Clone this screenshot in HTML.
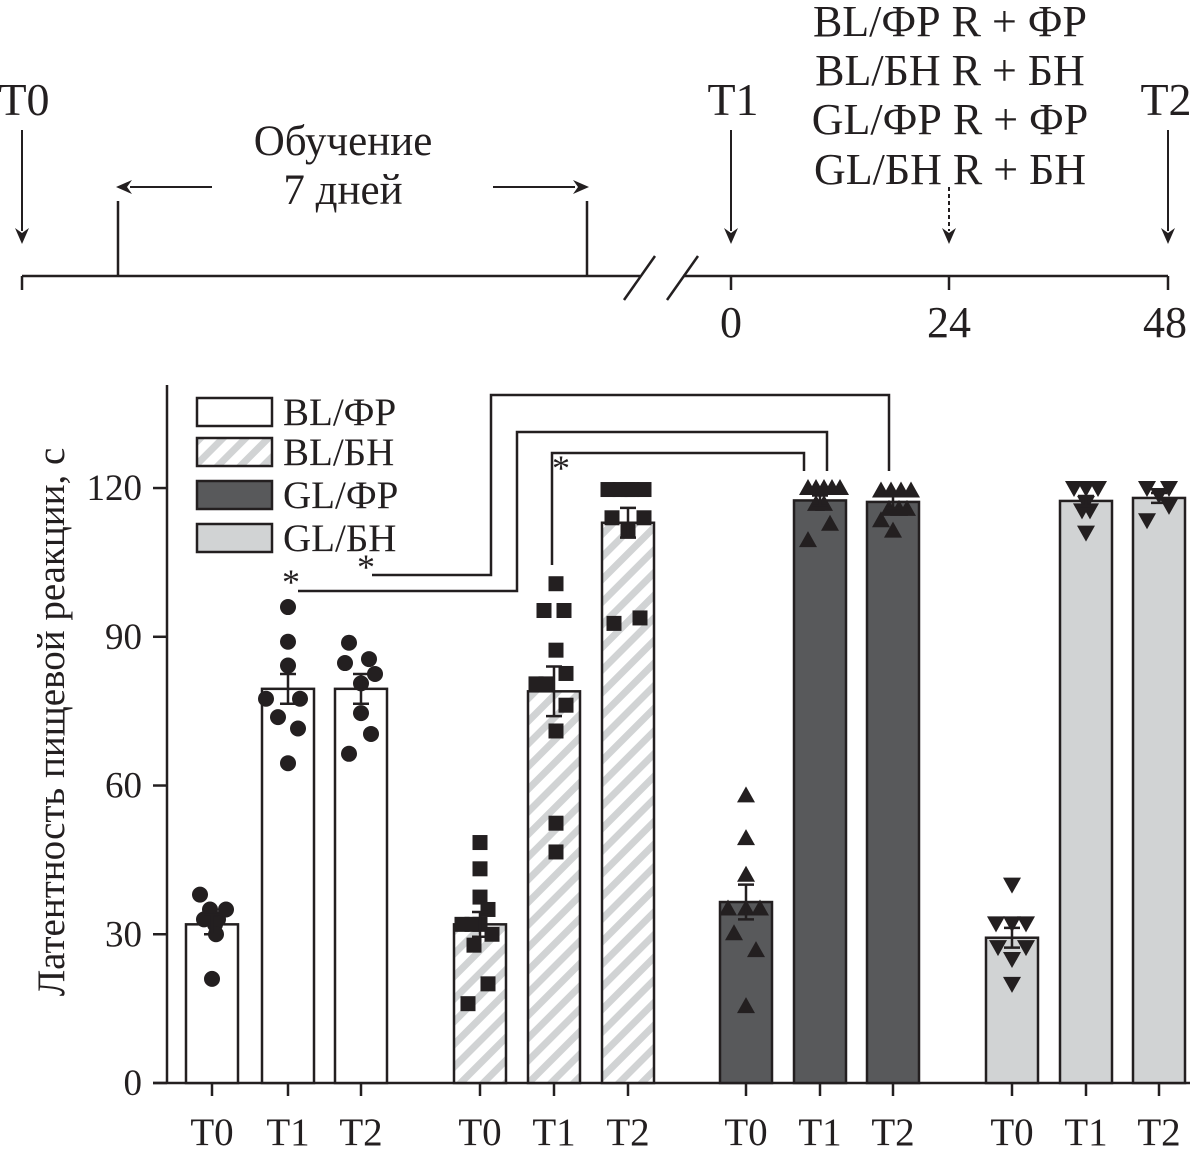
<!DOCTYPE html>
<html><head><meta charset="utf-8">
<style>
html,body{margin:0;padding:0;background:#fff;}
svg{display:block;font-family:"Liberation Serif","DejaVu Serif",serif;}
</style></head>
<body>
<svg id="chart" width="1201" height="1157" viewBox="0 0 1201 1157" xmlns="http://www.w3.org/2000/svg">
<defs>
<pattern id="hatch" patternUnits="userSpaceOnUse" width="16" height="16" patternTransform="rotate(45)">
<rect width="16" height="16" fill="#fff"/>
<rect x="0" y="0" width="7" height="16" fill="#d1d3d4"/>
</pattern>
</defs>

<g stroke="#231f20" stroke-width="2.5" fill="none">
<line x1="22" y1="276" x2="640" y2="276"/>
<line x1="683" y1="276" x2="1168" y2="276"/>
<line x1="22" y1="276" x2="22" y2="290"/>
<line x1="118" y1="201" x2="118" y2="276"/>
<line x1="587" y1="201" x2="587" y2="276"/>
<line x1="624" y1="300" x2="655" y2="256"/>
<line x1="667" y1="300" x2="698" y2="256"/>
<line x1="731" y1="276" x2="731" y2="290"/>
<line x1="949" y1="276" x2="949" y2="290"/>
<line x1="1168" y1="276" x2="1168" y2="290"/>
<line x1="22" y1="130" x2="22" y2="231" stroke-width="2"/>
<path d="M15,228 L22,244 L29,228 L22,233Z" fill="#231f20" stroke="none"/>
<line x1="731" y1="130" x2="731" y2="231" stroke-width="2"/>
<path d="M724,228 L731,244 L738,228 L731,233Z" fill="#231f20" stroke="none"/>
<line x1="1168" y1="130" x2="1168" y2="231" stroke-width="2"/>
<path d="M1161,228 L1168,244 L1175,228 L1168,233Z" fill="#231f20" stroke="none"/>
<line x1="949" y1="187" x2="949" y2="231" stroke-width="2" stroke-dasharray="4,3"/>
<path d="M942,228 L949,244 L956,228 L949,233Z" fill="#231f20" stroke="none"/>
<line x1="212" y1="187" x2="130" y2="187" stroke-width="2"/>
<path d="M132,180 L116,187 L132,194 L127,187Z" fill="#231f20" stroke="none"/>
<line x1="493" y1="187" x2="575" y2="187" stroke-width="2"/>
<path d="M573,180 L589,187 L573,194 L578,187Z" fill="#231f20" stroke="none"/>
</g>
<g font-size="44" fill="#231f20" text-anchor="middle">
<text x="24" y="115" font-size="46">T0</text>
<text x="733" y="115" font-size="46">T1</text>
<text x="1166" y="115" font-size="46">T2</text>
<text x="343" y="155" font-size="43">Обучение</text>
<text x="343" y="204" font-size="43">7 дней</text>
<text x="950" y="36">BL/ФР R + ФР</text>
<text x="950" y="85">BL/БН R + БН</text>
<text x="950" y="134">GL/ФР R + ФР</text>
<text x="950" y="184">GL/БН R + БН</text>
<text x="731" y="337">0</text>
<text x="949" y="337">24</text>
<text x="1165" y="337">48</text>
</g>

<g id="plot"></g>
</svg>
<script>
const groups = ["BL/ФР","BL/БН","GL/ФР","GL/БН"];
const timepoints = ["T0","T1","T2"];
const means = [[32,79.5,79.5],[32,79,113],[36.5,117.5,117.2],[29.3,117.4,118]];
const sems = [[2,3,3],[2.5,5,3],[3.5,1,1.2],[2,1,1]];
const points = [
 [[38,35,33,33,35,32,30,21],[96,89,84.2,77.5,77.5,73.8,71.5,64.5],[88.8,84.7,85.5,82.5,80.6,74.6,70.4,66.4]],
 [[48.5,43.2,37.5,35,32,32,32,30,27.8,20,16],[100.7,95.3,95.3,87.3,82.6,80.5,80.5,76.2,71,52.4,46.6],[119.7,119.7,119.7,119.7,119.7,114,114,111.4,92.7,93.8]],
 [[58,49.4,42,35.2,35.2,35.2,30.2,26.8,15.5],[120,120,120,120,120,116.8,116.8,112.8,109.5],[119.5,119.5,119.5,119.5,115.8,115.8,115.8,113.5,111.4]],
 [[40,32.2,32.2,32.2,27.4,27.4,25,20],[120,120,120,117,115.5,115.5,111],[120,120,118.6,116.4,113.5]]
];
const jitter = [
 [[-12,-2,-8,6,14,3,4,0],[0,0,0,-22,12,-10,10,0],[-12,-16,8,14,0,0,10,-12]],
 [[0,0,0,8,-18,-8,0,12,-6,8,-12],[2,-10,10,2,12,-18,-8,12,2,2,2],[-20,-8,4,16,0,-16,16,0,-14,12]],
 [[0,0,0,-18,0,14,-12,10,0],[-12,-4,4,12,20,-4,4,10,-12],[-12,-2,8,18,-4,6,14,-12,0]],
 [[0,-16,0,14,-14,14,0,0],[-12,12,0,0,-4,4,0],[-12,10,0,10,-12]]
];
const yTicks = [0,30,60,90,120];
const centers = [[212,288,361],[480,554,628],[746,820,893],[1012,1086,1159]];
const fills = ["#ffffff","url(#hatch)","#58595b","#d1d3d4"];
const markers = ["circle","square","tri","tri-down"];

const NS="http://www.w3.org/2000/svg";
const plot=document.getElementById('plot');
const Y0=1083, K=4.958;
function y(v){return Y0-v*K;}
function mk(tag,attrs,parent){const e=document.createElementNS(NS,tag);for(const k in attrs)e.setAttribute(k,attrs[k]);(parent||plot).appendChild(e);return e;}

let ax=mk('line',{x1:167,y1:385,x2:167,y2:Y0,stroke:'#231f20','stroke-width':2.5});


let bx=mk('line',{x1:153,y1:Y0,x2:1190,y2:Y0,stroke:'#231f20','stroke-width':2.5});


yTicks.forEach(t=>{
 const tk=mk('line',{x1:153,y1:y(t),x2:167,y2:y(t),stroke:'#231f20','stroke-width':2.5});
 
 
 const tl=mk('text',{x:142,y:y(t)+12,'text-anchor':'end','font-size':37,fill:'#231f20'});
 tl.textContent=t;
 
 
});
const yt=mk('text',{x:0,y:0,'font-size':39,fill:'#231f20','text-anchor':'middle',transform:'translate(64,722) rotate(-90)'});
yt.textContent='Латентность пищевой реакции, с';



const BW=52;
groups.forEach((g,gi)=>{
 timepoints.forEach((tp,ti)=>{
  const cx=centers[gi][ti], v=means[gi][ti];
  const r=mk('rect',{x:cx-BW/2,y:y(v),width:BW,height:Y0-y(v),fill:fills[gi],stroke:'#231f20','stroke-width':2.5});
  
  
  const tk=mk('line',{x1:cx,y1:Y0,x2:cx,y2:Y0+13,stroke:'#231f20','stroke-width':2.5});
  
  
  const tl=mk('text',{x:cx,y:1145,'text-anchor':'middle','font-size':39,fill:'#231f20'});
  tl.textContent=tp;
  
  
  points[gi][ti].forEach((p,pi)=>{
   const px=cx+(jitter[gi][ti][pi]||0), py=y(p);
   let m;
   if(markers[gi]==='circle') m=mk('circle',{cx:px,cy:py,r:8,fill:'#231f20'});
   else if(markers[gi]==='square') m=mk('rect',{x:px-7.5,y:py-7.5,width:15,height:15,fill:'#231f20'});
   else if(markers[gi]==='tri') m=mk('path',{d:`M${px-9},${py+7} L${px+9},${py+7} L${px},${py-9}Z`,fill:'#231f20'});
   else m=mk('path',{d:`M${px-9},${py-7} L${px+9},${py-7} L${px},${py+9}Z`,fill:'#231f20'});
   
   
  });
  const s=sems[gi][ti];
  const eb=mk('path',{d:`M${cx},${y(v-s)} L${cx},${y(v+s)} M${cx-8},${y(v+s)} L${cx+8},${y(v+s)} M${cx-8},${y(v-s)} L${cx+8},${y(v-s)}`,stroke:'#231f20','stroke-width':2.5,fill:'none'});
  
  
 });
});

const br=[
 'M298,591 L517,591 L517,432 L827,432 L827,471',
 'M372,575 L491,575 L491,395 L889,395 L889,471',
 'M552,565 L552,453 L804,453 L804,471'
];
br.forEach(d=>{
 const b=mk('path',{d:d,stroke:'#231f20','stroke-width':2.5,fill:'none'});
 
 
});
[[291,594],[366,579],[561,480]].forEach(p=>{
 const s=mk('text',{x:p[0],y:p[1],'text-anchor':'middle','font-size':36,fill:'#231f20'});
 s.textContent='*';
 
 
});

groups.forEach((g,gi)=>{
 const ly=[398,438,481,524][gi];
 const sw=mk('rect',{x:197,y:ly,width:75,height:28,fill:fills[gi],stroke:'#231f20','stroke-width':2.5});
 
 
 const t=mk('text',{x:283,y:ly+27,'font-size':39,fill:'#231f20'});
 t.textContent=g;
 
 
});
</script>
</body></html>
